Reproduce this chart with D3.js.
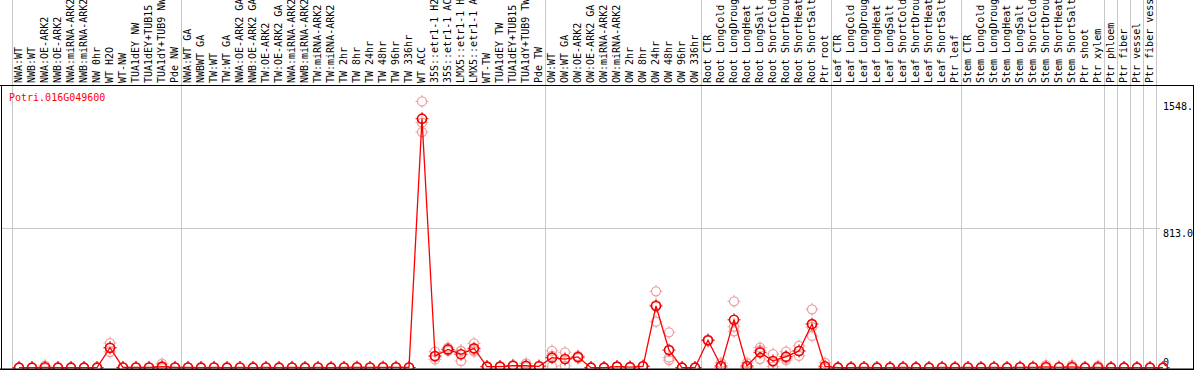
<!DOCTYPE html>
<html>
<head>
<meta charset="utf-8">
<script src="https://cdn.jsdelivr.net/npm/d3@7"></script>
<style>
  body { margin: 0; background: #fff; }
  svg { display: block; }
  text { font-family: "DejaVu Sans Mono", monospace; font-size: 10px; }
</style>
</head>
<body>
<div id="cont"></div>
<script>
var geneName = "Potri.016G049600";

// sample names as shown on the chart (long names are cut at the top edge)
var samples = [
  "NWA:WT", "NWB:WT", "NWA:OE-ARK2", "NWB:OE-ARK2", "NWA:miRNA-ARK2", "NWB:miRNA-ARK2",
  "NW 0hr", "WT H2O", "WT-NW", "TUA1dEY NW", "TUA1dEY+TUB15", "TUA1dY+TUB9 NW", "Pde NW",
  "NWA:WT GA", "NWBWT GA", "TW:WT", "TW:WT GA", "NWA:OE-ARK2 GA", "NWB:OE-ARK2 GA",
  "TW:OE-ARK2", "TW:OE-ARK2 GA", "NWA:miRNA-ARK2", "NWB:miRNA-ARK2", "TW:miRNA-ARK2", "TW:miRNA-ARK2",
  "TW 2hr", "TW 8hr", "TW 24hr", "TW 48hr", "TW 96hr", "TW 336hr", "WT ACC",
  "35S::etr1-1 H2", "35S::etr1-1 AC", "LMX5::etr1-1 H", "LMX5::etr1-1 A",
  "WT-TW", "TUA1dEY TW", "TUA1dEY+TUB15", "TUA1dY+TUB9 TW", "Pde TW",
  "OW:WT", "OW:WT GA", "OW:OE-ARK2", "OW:OE-ARK2 GA", "OW:miRNA-ARK2", "OW:miRNA-ARK2",
  "OW 2hr", "OW 8hr", "OW 24hr", "OW 48hr", "OW 96hr", "OW 336hr",
  "Root CTR", "Root LongCold", "Root LongDroug", "Root LongHeat", "Root LongSalt",
  "Root ShortCold", "Root ShortDrou", "Root ShortHeat", "Root ShortSalt", "Ptr root",
  "Leaf CTR", "Leaf LongCold", "Leaf LongDroug", "Leaf LongHeat", "Leaf LongSalt",
  "Leaf ShortCold", "Leaf ShortDrou", "Leaf ShortHeat", "Leaf ShortSalt", "Ptr leaf",
  "Stem CTR", "Stem LongCold", "Stem LongDroug", "Stem LongHeat", "Stem LongSalt",
  "Stem ShortCold", "Stem ShortDrou", "Stem ShortHeat", "Stem ShortSalt", "Ptr shoot",
  "Ptr xylem", "Ptr phloem", "Ptr fiber", "Ptr vessel", "Ptr fiber vess"
];

// mean expression per sample
var means = [
  2, 2, 4, 2, 2, 2, 2, 118, 3, 3, 3, 8, 3,
  3, 2, 3, 2, 3, 2, 3, 2, 3, 2, 3, 2, 3, 4, 3, 4, 4, 3, 1448,
  70, 108, 80, 114, 8, 8, 13, 13, 10,
  60, 52, 64, 2, 2, 8, 5, 10, 360, 104, 2, 2,
  161, 12, 280, 12, 91, 41, 66, 99, 255, 10,
  2, 2, 3, 2, 2, 3, 2, 2, 3, 2,
  3, 2, 3, 2, 4, 4, 6, 4, 6, 2, 4,
  2, 2, 2, 2, 2
];

// replicate values per sample
var replicates = [
  [2, 2, 3], [2, 3, 2], [14, 0, 0], [2, 2, 3], [3, 2, 2], [2, 2, 3], [2, 3, 2], [145, 93, 116], [3, 4, 2], [3, 3, 4], [4, 3, 2], [25, 0, 0], [3, 4, 3],
  [3, 4, 2], [2, 3, 2], [3, 4, 3], [2, 3, 2], [3, 2, 4], [2, 3, 2], [3, 3, 4], [2, 3, 2], [3, 4, 2], [2, 3, 2], [3, 2, 4], [2, 2, 3], [3, 4, 3], [6, 3, 3], [3, 4, 3], [6, 3, 4], [5, 4, 3], [3, 4, 3], [1548, 1425, 1370],
  [95, 50, 65], [118, 100, 106], [100, 40, 100], [143, 104, 95], [10, 7, 8], [9, 8, 7], [16, 12, 11], [27, 5, 7], [12, 9, 10],
  [100, 10, 70], [91, 13, 52], [70, 58, 64], [2, 3, 2], [3, 2, 2], [10, 7, 8], [6, 5, 4], [12, 9, 10], [445, 269, 366], [207, 60, 46], [2, 3, 2], [3, 2, 2],
  [165, 158, 160], [29, 4, 3], [387, 240, 213], [29, 3, 4], [118, 52, 103], [81, 8, 34], [95, 46, 57], [128, 70, 99], [341, 186, 238], [30, 0, 0],
  [2, 3, 2], [2, 2, 3], [4, 3, 2], [2, 3, 2], [3, 2, 2], [4, 3, 3], [2, 3, 2], [3, 2, 2], [4, 3, 2], [2, 2, 3],
  [4, 3, 2], [2, 3, 2], [4, 3, 2], [3, 2, 2], [5, 4, 3], [5, 4, 3], [17, 0, 1], [5, 4, 3], [17, 1, 0], [2, 3, 2], [12, 0, 0],
  [2, 3, 2], [3, 2, 2], [2, 2, 3], [2, 3, 2], [3, 2, 2]
];

// first sample of each group (a grey line is drawn before it), last entry closes the chart
var groupStarts = [0, 13, 41, 53, 63, 73, 84, 85, 86, 87, 88];

var yTicks = [0, 813, 1548];
var yTickLabels = ["0", "813.0", "1548."];

var width = 1194, height = 370;
var plotTop = 85, plotBottom = 369;

var svg = d3.select("#cont")
  .append("svg")
  .attr("width", width)
  .attr("height", height);

var x = d3.scaleLinear()
  .domain([0, samples.length - 1])
  .range([19, 1150]);

var y = d3.scaleLinear()
  .domain([0, 1626])
  .range([368, 88]);

//grey grid lines
svg.selectAll("line.vgrid")
  .data(groupStarts)
  .enter()
  .append("line")
  .attr("class", "vgrid")
  .attr("x1", function(d) { return Math.round(x(d - 0.5)) - 0.5; })
  .attr("x2", function(d) { return Math.round(x(d - 0.5)) - 0.5; })
  .attr("y1", 0)
  .attr("y2", height)
  .style("stroke", "#c8c8c8")
  .style("stroke-width", 1);

svg.append("line")
  .attr("x1", 1)
  .attr("x2", 1160)
  .attr("y1", Math.round(y(813)) + 0.5)
  .attr("y2", Math.round(y(813)) + 0.5)
  .style("stroke", "#c8c8c8")
  .style("stroke-width", 1);

//sample labels, reading upward from the header line
svg.selectAll("text.sample")
  .data(samples)
  .enter()
  .append("text")
  .attr("class", "sample")
  .attr("transform", function(d, i) {
    return "translate(" + (x(i) + 2.5) + ",83) rotate(-90)";
  })
  .text(function(d) { return d; });

//gene name
svg.append("text")
  .attr("x", 9)
  .attr("y", 101)
  .style("fill", "#ff0000")
  .text(geneName);

//right axis labels
svg.selectAll("text.ytick")
  .data(yTicks)
  .enter()
  .append("text")
  .attr("class", "ytick")
  .attr("x", 1163)
  .attr("y", function(d) {
    if (d == 0) return y(d) - 2;
    return y(d) + 9;
  })
  .text(function(d, i) { return yTickLabels[i]; });

//replicate markers
var repPoints = [];
for (var i = 0; i < replicates.length; i++) {
  for (var j = 0; j < replicates[i].length; j++) {
    repPoints.push([i, replicates[i][j]]);
  }
}

function marker(g, color, w) {
  g.append("circle")
    .attr("r", 4.5)
    .style("fill", "none")
    .style("stroke", color)
    .style("stroke-width", w);
  g.append("path")
    .attr("d", "M0,-6.5V-4.5M0,4.5V6.5M-6.5,0H-4.5M4.5,0H6.5")
    .style("stroke", color)
    .style("stroke-width", 1);
}

svg.selectAll("g.rep")
  .data(repPoints)
  .enter()
  .append("g")
  .attr("class", "rep")
  .attr("transform", function(d) { return "translate(" + x(d[0]) + "," + y(d[1]) + ")"; })
  .call(marker, "#f0a0a0", 1.3);

//mean line
var line = d3.line()
  .x(function(d, i) { return x(i); })
  .y(function(d) { return y(d); });

svg.append("path")
  .datum(means)
  .attr("d", line)
  .style("fill", "none")
  .style("stroke", "#ff0000")
  .style("stroke-width", 1.3);

svg.selectAll("g.mean")
  .data(means)
  .enter()
  .append("g")
  .attr("class", "mean")
  .attr("transform", function(d, i) { return "translate(" + x(i) + "," + y(d) + ")"; })
  .call(marker, "#ee0000", 1.6);

//frame
svg.append("line")
  .attr("x1", 0).attr("x2", width)
  .attr("y1", plotTop + 0.5).attr("y2", plotTop + 0.5)
  .style("stroke", "#000").style("stroke-width", 1);

svg.append("line")
  .attr("x1", 1.5).attr("x2", 1.5)
  .attr("y1", plotTop).attr("y2", height)
  .style("stroke", "#000").style("stroke-width", 1);

svg.append("line")
  .attr("x1", 1193.5).attr("x2", 1193.5)
  .attr("y1", plotTop).attr("y2", height)
  .style("stroke", "#000").style("stroke-width", 1);

svg.append("line")
  .attr("x1", 0).attr("x2", width)
  .attr("y1", plotBottom + 0.5).attr("y2", plotBottom + 0.5)
  .style("stroke", "#000").style("stroke-width", 2);
</script>
</body>
</html>
